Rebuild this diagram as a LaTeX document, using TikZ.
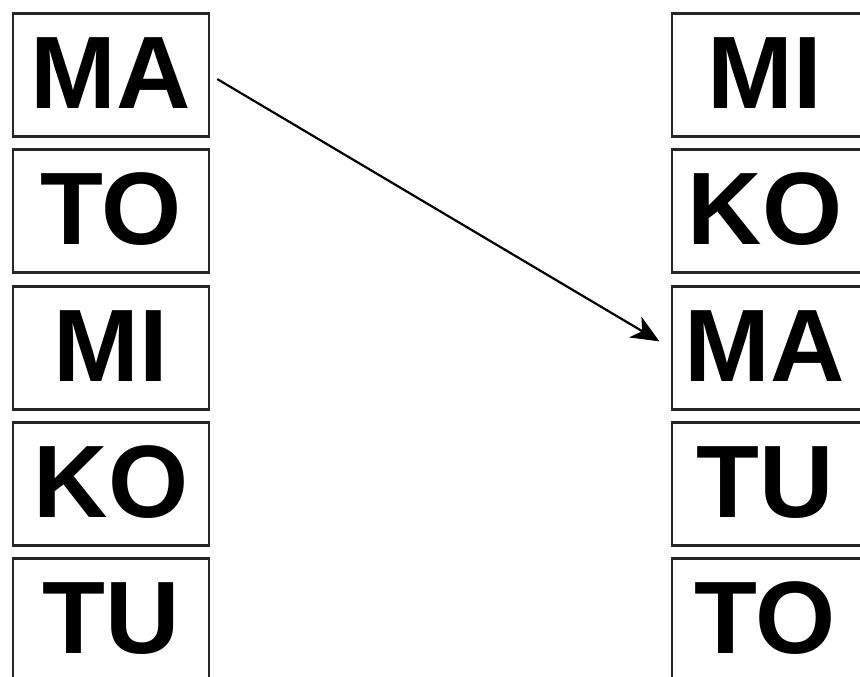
\documentclass[tikz,border=0pt]{standalone}
\usepackage{fontspec}
\setmainfont{Liberation Sans}
\usetikzlibrary{arrows.meta}
\begin{document}
\begin{tikzpicture}[x=1pt,y=-1pt,
  cell/.style={draw=black!85, line width=2.8pt, minimum width=196pt, minimum height=123pt,
    inner sep=0pt, text height=75pt, text depth=9pt,
    font=\fontsize{103}{103}\bfseries\selectfont},
  move/.style={-{Stealth[length=28pt,width=24pt,inset=8pt]}, line width=2.2pt, shorten <=8pt, shorten >=13pt}]
\clip (0,0) rectangle (860,677);
\fill[white] (0,0) rectangle (860,677);
\node[cell] (l1) at (111,75) {MA};
\node[cell] (l2) at (111,211) {TO};
\node[cell] (l3) at (111,348) {MI};
\node[cell] (l4) at (111,484) {KO};
\node[cell] (l5) at (111,620) {TU};
\node[cell] (r1) at (770,75) {\hspace*{-10pt}MI};
\node[cell] (r2) at (770,211) {\hspace*{-10pt}KO};
\node[cell] (r3) at (770,348) {\hspace*{-10pt}MA};
\node[cell] (r4) at (770,484) {\hspace*{-10pt}TU};
\node[cell] (r5) at (770,620) {\hspace*{-10pt}TO};
\draw[move] (l1.east) -- (r3.west);
\end{tikzpicture}
\end{document}
